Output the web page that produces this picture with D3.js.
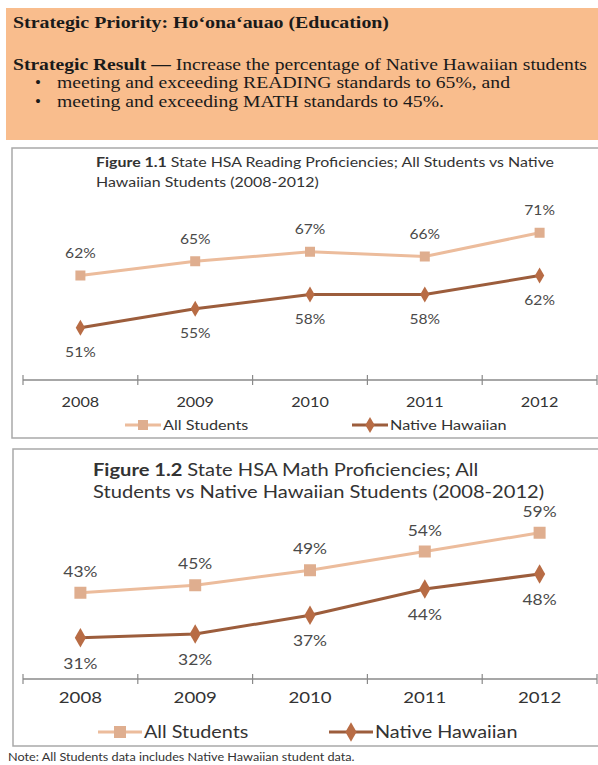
<!DOCTYPE html>
<html>
<head>
<meta charset="utf-8">
<script src="https://cdn.jsdelivr.net/npm/d3@7"></script>
<style>
  html, body { margin: 0; padding: 0; background: #ffffff; }
  svg { display: block; }
</style>
</head>
<body>
<div id="chart"></div>
<script>
// ---------- data ----------
const years = ["2008", "2009", "2010", "2011", "2012"];
const seriesNames = ["All Students", "Native Hawaiian"];
const readingAll = [62, 65, 67, 66, 71];
const readingNH = [51, 55, 58, 58, 62];
const mathAll = [43, 45, 49, 54, 59];
const mathNH = [31, 32, 37, 44, 48];

const W = 598, H = 765;
const svg = d3.select("#chart").append("svg").attr("width", W).attr("height", H);

// horizontal stretch helper (the source scan is wider than the fonts)
function stretch(sel, k) {
  sel.each(function () {
    const l = this.getComputedTextLength();
    d3.select(this).attr("textLength", l * k).attr("lengthAdjust", "spacingAndGlyphs");
  });
  return sel;
}
function fitTo(sel, len) {
  sel.attr("textLength", len).attr("lengthAdjust", "spacingAndGlyphs");
  return sel;
}

// ---------- header box ----------
svg.append("rect").attr("x", 6).attr("y", 8).attr("width", W - 6).attr("height", 132)
  .attr("fill", "#f9bd8d");
const serif = "'Liberation Serif', 'Times New Roman', serif";
const hSize = 17;
fitTo(svg.append("text").attr("x", 13).attr("y", 28)
  .attr("font-family", serif).attr("font-size", hSize).attr("font-weight", "bold").attr("fill", "#1a1a1a")
  .text("Strategic Priority:  Ho\u2018ona\u2018auao (Education)"), 376);
const l2 = svg.append("text").attr("x", 13).attr("y", 70)
  .attr("font-family", serif).attr("font-size", hSize).attr("fill", "#1a1a1a");
l2.append("tspan").attr("font-weight", "bold").text("Strategic Result \u2014 ");
l2.append("tspan").text("Increase the percentage of Native Hawaiian students");
fitTo(l2, 574);
const bullets = [
  "meeting and exceeding READING standards to 65%, and",
  "meeting and exceeding MATH standards to 45%."
];
let bk = 1;
bullets.forEach((b, i) => {
  svg.append("text").attr("x", 35).attr("y", 88 + i * 19)
    .attr("font-family", serif).attr("font-size", hSize).attr("fill", "#1a1a1a").text("\u2022");
  const t = svg.append("text").attr("x", 57).attr("y", 88 + i * 19)
    .attr("font-family", serif).attr("font-size", hSize).attr("fill", "#1a1a1a").text(b);
  if (i === 0) { bk = 453 / t.node().getComputedTextLength(); }
  stretch(t, bk);
});

const sans = "Lato, 'Open Sans', sans-serif";
const colAllLine = "#ecbc9c", colAllMark = "#dfae8f";
const colNHLine = "#9c5d3c", colNHMark = "#b86c45";
const SX = 1.2;

function drawChart(cfg) {
  const g = svg.append("g");
  // box
  g.append("rect").attr("x", cfg.box[0]).attr("y", cfg.box[1])
    .attr("width", cfg.box[2]).attr("height", cfg.box[3])
    .attr("fill", "#fff").attr("stroke", "#a9a9a9").attr("stroke-width", 1.5);
  // title
  cfg.titleLines.forEach((ln, i) => {
    const t = g.append("text").attr("x", cfg.titleX).attr("y", cfg.titleY + i * cfg.titleDy)
      .attr("font-family", sans).attr("font-size", cfg.titleSize).attr("fill", "#333");
    if (i === 0) {
      t.append("tspan").attr("font-weight", "bold").text(cfg.figLabel + " ");
    }
    t.append("tspan").text(ln);
    stretch(t, cfg.titleSX);
  });

  const x = d3.scaleBand().domain(years).range([23, 597]).padding(0);
  const y = d3.scaleLinear().domain(cfg.yDomain).range(cfg.yRange);
  const axisY = cfg.yRange[0];

  // axis line & boundary ticks
  const axis = g.append("g").attr("transform", `translate(0,${axisY})`);
  axis.append("line").attr("x1", x.range()[0]).attr("x2", x.range()[1])
    .attr("stroke", "#8a8a8a").attr("stroke-width", 1.3);
  const bounds = years.map(d => x(d)).concat([x.range()[1]]);
  axis.selectAll("line.tk").data(bounds).enter().append("line").attr("class", "tk")
    .attr("x1", d => d).attr("x2", d => d).attr("y1", -5).attr("y2", 5)
    .attr("stroke", "#8a8a8a").attr("stroke-width", 1.2);
  const xAxis = d3.axisBottom(x).tickSize(0).tickPadding(cfg.yearPad);
  const ax = g.append("g").attr("transform", `translate(0,${axisY})`).call(xAxis);
  ax.select(".domain").remove();
  stretch(ax.selectAll("text").attr("font-family", sans).attr("font-size", cfg.yearSize).attr("fill", "#333"), SX);

  const cx = d => x(d) + x.bandwidth() / 2;
  const line = d3.line().x(d => cx(d.year)).y(d => y(d.v));
  const all = years.map((yr, i) => ({ year: yr, v: cfg.all[i] }));
  const nh = years.map((yr, i) => ({ year: yr, v: cfg.nh[i] }));

  g.append("path").datum(all).attr("d", line).attr("fill", "none")
    .attr("stroke", colAllLine).attr("stroke-width", 3);
  g.append("path").datum(nh).attr("d", line).attr("fill", "none")
    .attr("stroke", colNHLine).attr("stroke-width", 3);

  const ms = cfg.markerSize;
  g.selectAll("rect.ma").data(all).enter().append("rect").attr("class", "ma")
    .attr("x", d => cx(d.year) - ms / 2).attr("y", d => y(d.v) - ms / 2)
    .attr("width", ms).attr("height", ms).attr("fill", colAllMark);
  const diamond = d3.symbol().type(d3.symbolDiamond).size(ms * ms * 0.75);
  g.selectAll("path.mn").data(nh).enter().append("path").attr("class", "mn")
    .attr("d", diamond).attr("transform", d => `translate(${cx(d.year)},${y(d.v)})`)
    .attr("fill", colNHMark);

  // data labels
  stretch(g.selectAll("text.la").data(all).enter().append("text").attr("class", "la")
    .attr("x", d => cx(d.year)).attr("y", d => y(d.v) - cfg.labUp)
    .attr("text-anchor", "middle").attr("font-family", sans).attr("font-size", cfg.labSize)
    .attr("fill", "#4a4a4a").text(d => d.v + "%"), SX);
  stretch(g.selectAll("text.ln").data(nh).enter().append("text").attr("class", "ln")
    .attr("x", d => cx(d.year)).attr("y", d => y(d.v) + cfg.labDown)
    .attr("text-anchor", "middle").attr("font-family", sans).attr("font-size", cfg.labSize)
    .attr("fill", "#4a4a4a").text(d => d.v + "%"), SX);

  // legend
  const leg = [
    { name: seriesNames[0], lx: cfg.legX[0], lc: colAllLine, mc: colAllMark, type: "sq" },
    { name: seriesNames[1], lx: cfg.legX[1], lc: colNHLine, mc: colNHMark, type: "dm" }
  ];
  leg.forEach(l => {
    const ly = cfg.legY;
    g.append("line").attr("x1", l.lx).attr("x2", l.lx + cfg.legLen).attr("y1", ly).attr("y2", ly)
      .attr("stroke", l.lc).attr("stroke-width", 3);
    const mx = l.lx + cfg.legLen / 2;
    if (l.type === "sq") {
      g.append("rect").attr("x", mx - ms / 2).attr("y", ly - ms / 2).attr("width", ms).attr("height", ms)
        .attr("fill", l.mc);
    } else {
      g.append("path").attr("d", diamond).attr("transform", `translate(${mx},${ly})`).attr("fill", l.mc);
    }
    stretch(g.append("text").attr("x", l.lx + cfg.legLen + 2).attr("y", ly).attr("dy", "0.35em")
      .attr("font-family", sans).attr("font-size", cfg.legSize).attr("fill", "#333").text(l.name), SX);
  });
}

drawChart({
  box: [12, 148, 600, 290],
  figLabel: "Figure 1.1",
  titleLines: ["State HSA Reading Proficiencies; All Students vs Native", "Hawaiian Students (2008-2012)"],
  titleX: 96, titleY: 167, titleDy: 20, titleSize: 13.5, titleSX: 1.18,
  yDomain: [40, 80], yRange: [380, 190],
  all: readingAll, nh: readingNH,
  markerSize: 10, labSize: 13, labUp: 17.5, labDown: 29.5,
  yearSize: 13.5, yearPad: 17,
  legX: [125, 352], legY: 425, legLen: 36, legSize: 13.5
});

drawChart({
  box: [13, 449, 600, 297],
  figLabel: "Figure 1.2",
  titleLines: ["State HSA Math Proficiencies; All", "Students vs Native Hawaiian Students (2008-2012)"],
  titleX: 93, titleY: 476, titleDy: 22, titleSize: 16.5, titleSX: 1.22,
  yDomain: [20, 70], yRange: [679, 491.5],
  all: mathAll, nh: mathNH,
  markerSize: 12, labSize: 14.5, labUp: 16, labDown: 31,
  yearSize: 15.5, yearPad: 13,
  legX: [98, 329], legY: 732, legLen: 44, legSize: 16.5
});

stretch(svg.append("text").attr("x", 8).attr("y", 761)
  .attr("font-family", sans).attr("font-size", 11).attr("fill", "#333")
  .text("Note: All Students data includes Native Hawaiian student data."), 1.15);
</script>
</body>
</html>
